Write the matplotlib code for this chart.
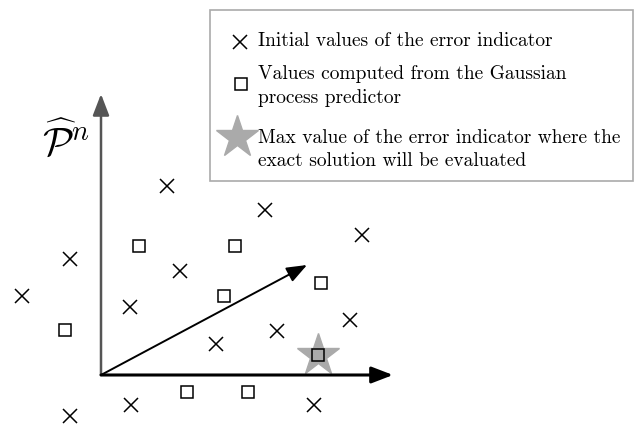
import matplotlib
matplotlib.use("Agg")
import matplotlib.pyplot as plt
from matplotlib.patches import Rectangle

plt.rcParams['mathtext.fontset'] = 'cm'

# Data (positions in the sketch plane, pixel-like units)
cross_x = [167, 265, 362, 70, 180, 22, 130, 350, 277, 216, 131, 314, 70]
cross_y = [186, 210, 235, 259, 271, 296, 307, 320, 331, 344, 405, 405, 416]
square_x = [139, 235, 321, 224, 65, 318, 187, 248]
square_y = [246, 246, 283, 296, 330, 355, 392, 392]
star_x = [318]
star_y = [355]
origin = (101, 375)
axis_x_end = (393, 375)
axis_y_end = (101, 94)
vector_end = (307, 265)

legend_labels = [
    "Initial values of the error indicator",
    "Values computed from the Gaussian\nprocess predictor",
    "Max value of the error indicator where the\nexact solution will be evaluated",
]
axis_label = r"$\widehat{\mathcal{P}}^n$"

fig = plt.figure(figsize=(6.35, 4.28), dpi=100)
ax = fig.add_axes([0, 0, 1, 1])
ax.set_xlim(0, 635)
ax.set_ylim(428, 0)
ax.axis('off')

# axes arrows
head = '-|>,head_length=0.65,head_width=0.25'
ax.annotate("", xy=axis_y_end, xytext=origin,
            arrowprops=dict(arrowstyle=head, color='#555555', lw=1.8,
                            mutation_scale=20, shrinkA=0, shrinkB=0))
ax.annotate("", xy=axis_x_end, xytext=origin,
            arrowprops=dict(arrowstyle=head, color='black', lw=2.2,
                            mutation_scale=20, shrinkA=0, shrinkB=0))
ax.annotate("", xy=vector_end, xytext=origin,
            arrowprops=dict(arrowstyle=head, color='black', lw=1.4,
                            mutation_scale=19, shrinkA=0, shrinkB=0))

ax.text(66, 143, axis_label, fontsize=29, ha='center', va='center')

# markers
ax.plot(star_x, star_y, linestyle='none', marker='*', markersize=32,
        color='#aaaaaa', markeredgecolor='#aaaaaa', zorder=2)
ax.plot(cross_x, cross_y, linestyle='none', marker='x', markersize=9.5,
        color='black', markeredgewidth=1.1, zorder=3)
ax.plot(square_x, square_y, linestyle='none', marker='s', markersize=9,
        markerfacecolor='none', markeredgecolor='black',
        markeredgewidth=1.1, zorder=3)

# legend box
ax.add_patch(Rectangle((210, 10), 423, 171, facecolor='white',
                       edgecolor='#aaaaaa', lw=1.2, zorder=4))
ax.plot([240], [42], linestyle='none', marker='x', markersize=9.5,
        color='black', markeredgewidth=1.1, zorder=5)
ax.plot([241], [84], linestyle='none', marker='s', markersize=9,
        markerfacecolor='none', markeredgecolor='black',
        markeredgewidth=1.1, zorder=5)
ax.plot([237], [137], linestyle='none', marker='*', markersize=32,
        color='#aaaaaa', markeredgecolor='#aaaaaa', zorder=5)

text_kw = dict(fontsize=14, family='cmr10', ha='left', va='center',
               zorder=6, linespacing=1.38)
ax.text(258, 41, legend_labels[0], **text_kw)
ax.text(258, 86, legend_labels[1], **text_kw)
ax.text(258, 149.5, legend_labels[2], **text_kw)

fig.savefig("out.png", dpi=100)
